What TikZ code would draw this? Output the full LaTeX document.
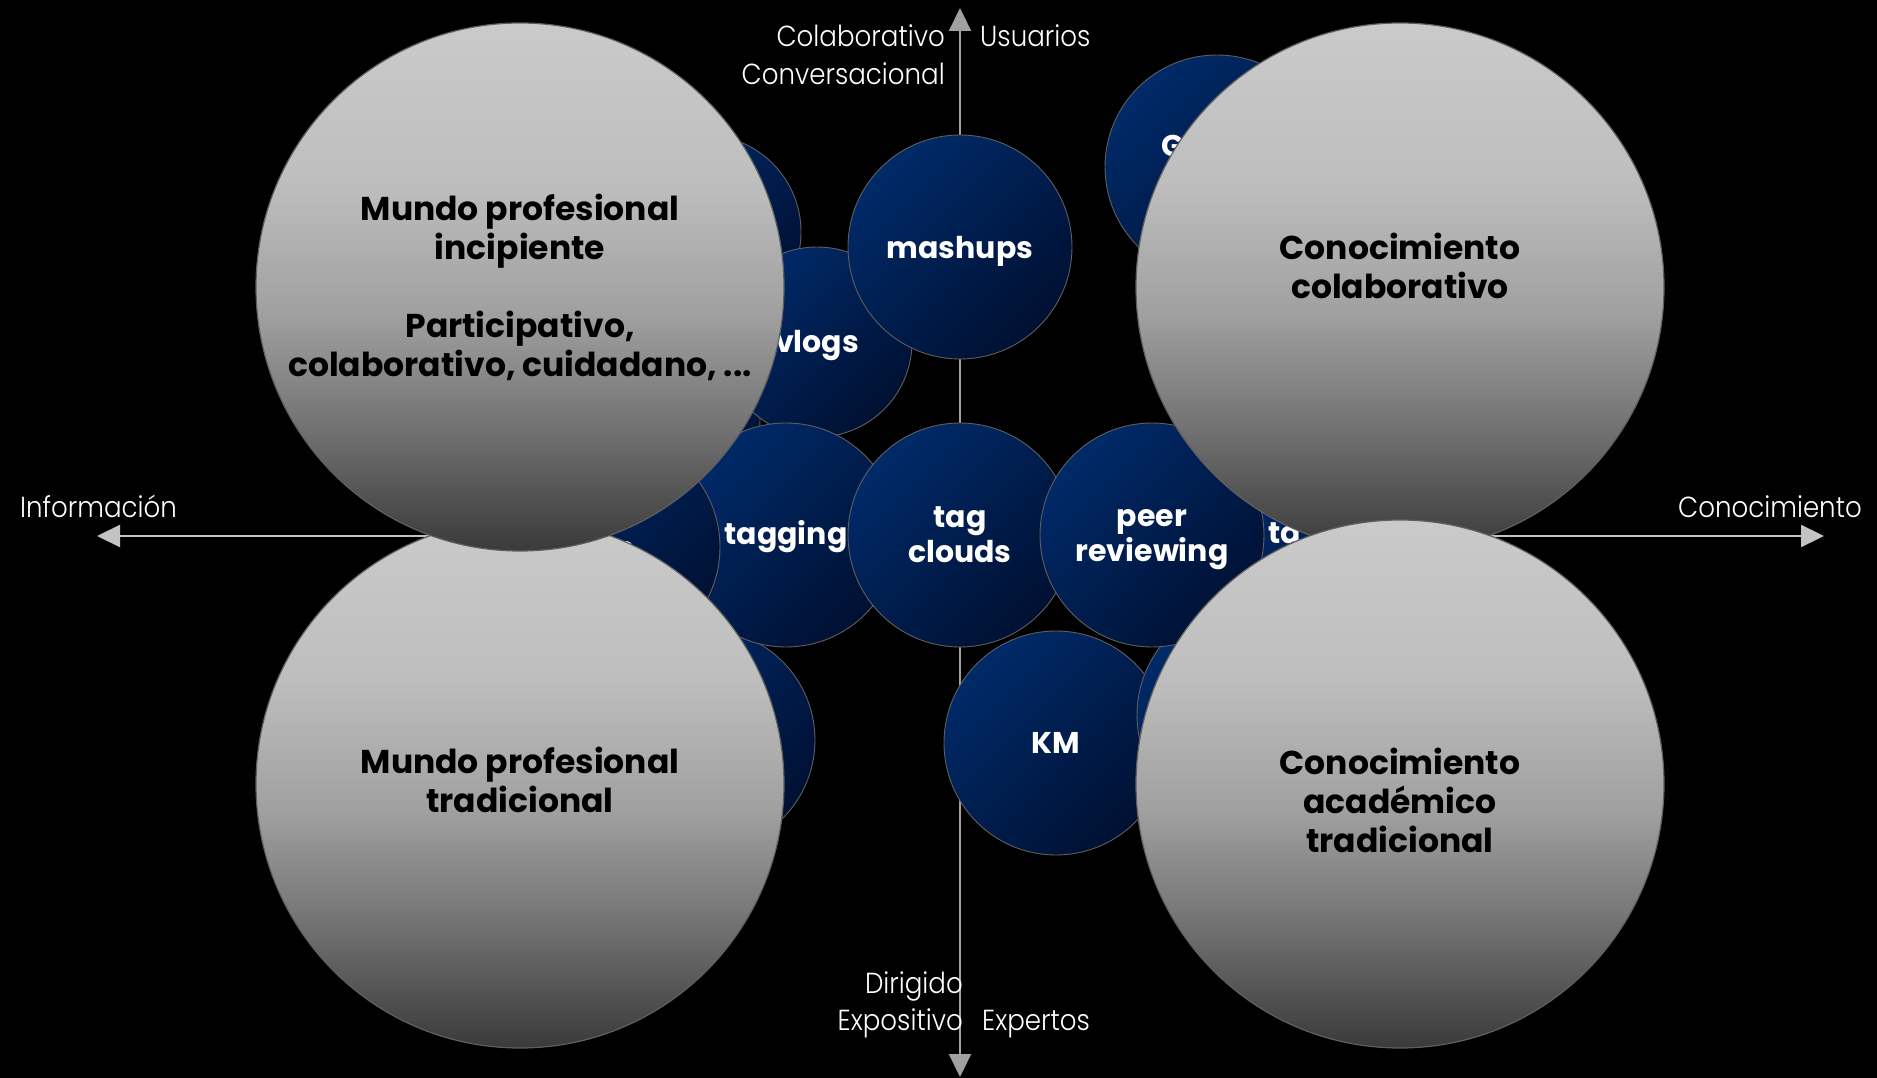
\documentclass[tikz,border=0pt]{standalone}
\usepackage{fontspec}
\setmainfont{Poppins}
\newfontfamily\popp{Poppins}
\newfontfamily\lightf{Poppins Light}[FakeStretch=0.9]
\usetikzlibrary{arrows.meta}
\definecolor{bluetop}{RGB}{0,42,105}
\definecolor{bluebot}{RGB}{0,16,50}
\definecolor{circline}{RGB}{95,95,95}
\definecolor{grayline}{RGB}{95,95,95}
\definecolor{gb0}{RGB}{202,202,202}
\definecolor{gb1}{RGB}{190,190,190}
\definecolor{gb2}{RGB}{160,160,160}
\definecolor{gb3}{RGB}{118,118,118}
\definecolor{gb4}{RGB}{58,58,58}
\definecolor{axisv}{RGB}{160,160,160}
\definecolor{axish}{RGB}{195,195,195}
\pgfdeclareverticalshading{grayball}{100bp}{color(0bp)=(gb4); color(25bp)=(gb4); color(37.5bp)=(gb3); color(47.5bp)=(gb2); color(60bp)=(gb1); color(75bp)=(gb0); color(100bp)=(gb0)}
\begin{document}
\begin{tikzpicture}[x=1pt,y=-1pt,
  bluec/.style={circle, inner sep=0pt, draw=circline, line width=0.9pt,
    top color=bluetop, bottom color=bluebot, shading angle=45},
  btext/.style={inner sep=0pt, text=white, align=center,
    font=\popp\bfseries\fontsize{30}{35}\selectfont},
  grayc/.style={circle, inner sep=0pt, minimum size=528pt, draw=grayline, line width=1.2pt,
    shade, shading=grayball},
  gtext/.style={inner sep=0pt, text=black, align=center,
    font=\popp\bfseries\fontsize{33}{39}\selectfont},
  lab/.style={inner sep=0pt, text=white, font=\lightf\fontsize{29}{36}\selectfont},
  axarrow/.style={line width=2.2pt, {Triangle[length=23pt,width=22pt]}-{Triangle[length=23pt,width=22pt]}}
]
\useasboundingbox (0,0) rectangle (1877,1078);
\fill[black] (0,0) rectangle (1877,1078);

% axes
\coordinate (axL) at (97,536);
\coordinate (axR) at (1824,536);
\coordinate (axT) at (960,8);
\coordinate (axB) at (960,1077);
\draw[axarrow, axish, fill=axish] (axL) -- (axR);
\draw[axarrow, axisv, fill=axisv] (axB) -- (axT);

% blue circles (back to front)
\node[bluec, minimum size=194pt] (ca) at (704,232) {};
\node[bluec, minimum size=120pt] (cc) at (700,420) {};
\node[bluec, minimum size=190pt] (vlogs) at (817,342) {};
\node[btext] (vlogst) at (817,346) {vlogs};
\node[bluec, minimum size=224pt] (mashups) at (960,247) {};
\node[btext] (mashupst) at (960,251) {mashups};
\node[bluec, minimum size=222pt] (cd) at (704,740) {};
\node[bluec, minimum size=224pt] (tagging) at (786,535) {};
\node[btext] (taggingt) at (786,537) {tagging};
\node[bluec, minimum size=224pt] (cb) at (608,547) {};
\node[btext, anchor=base west] (cbtext) at (617,558) {s};
\node[bluec, minimum size=224pt] (tagclouds) at (960,535) {};
\node[btext] (tagcloudst) at (960,535) {tag\\clouds};
\node[bluec, minimum size=224pt] (cg) at (1217,167) {};
\node[btext, anchor=base west] (cgtext) at (1161,157) {G};
\node[bluec, minimum size=224pt] (cta) at (1340,535) {};
\node[btext, anchor=base west] (ctatext) at (1268,543) {ta};
\node[bluec, minimum size=224pt] (km) at (1056,743) {};
\node[btext] (kmt) at (1056,743) {KM};
\node[bluec, minimum size=224pt] (ce) at (1249,715) {};
\node[bluec, minimum size=224pt] (peer) at (1152,535) {};
\node[btext] (peert) at (1152,540) {peer\\reviewing};

% gray circles
\node[grayc] (bl) at (520,784) {};
\node[gtext] (blt) at (520,780) {Mundo profesional\\tradicional};
\node[grayc] (tl) at (520,287) {};
\node[gtext] (tlt) at (520,287) {Mundo profesional\\incipiente\\~\\Participativo,\\colaborativo, cuidadano, ...};
\node[grayc] (tr) at (1400,287) {};
\node[gtext] (trt) at (1400,266) {Conocimiento\\colaborativo};
\node[grayc] (br) at (1400,784) {};
\node[gtext] (brt) at (1400,800) {Conocimiento\\académico\\tradicional};

% axis labels
\node[lab, anchor=base east] (colab) at (945,47) {Colaborativo};
\node[lab, anchor=base east] (conv) at (945,85) {Conversacional};
\node[lab, anchor=base west] (usu) at (980,47) {Usuarios};
\node[lab, anchor=base east] (dir) at (963,993) {Dirigido};
\node[lab, anchor=base east] (expo) at (963,1030) {Expositivo};
\node[lab, anchor=base west] (expe) at (982,1030) {Expertos};
\node[lab, anchor=base west] (info) at (20,517) {Información};
\node[lab, anchor=base east] (cono) at (1862,517) {Conocimiento};
\end{tikzpicture}
\end{document}
